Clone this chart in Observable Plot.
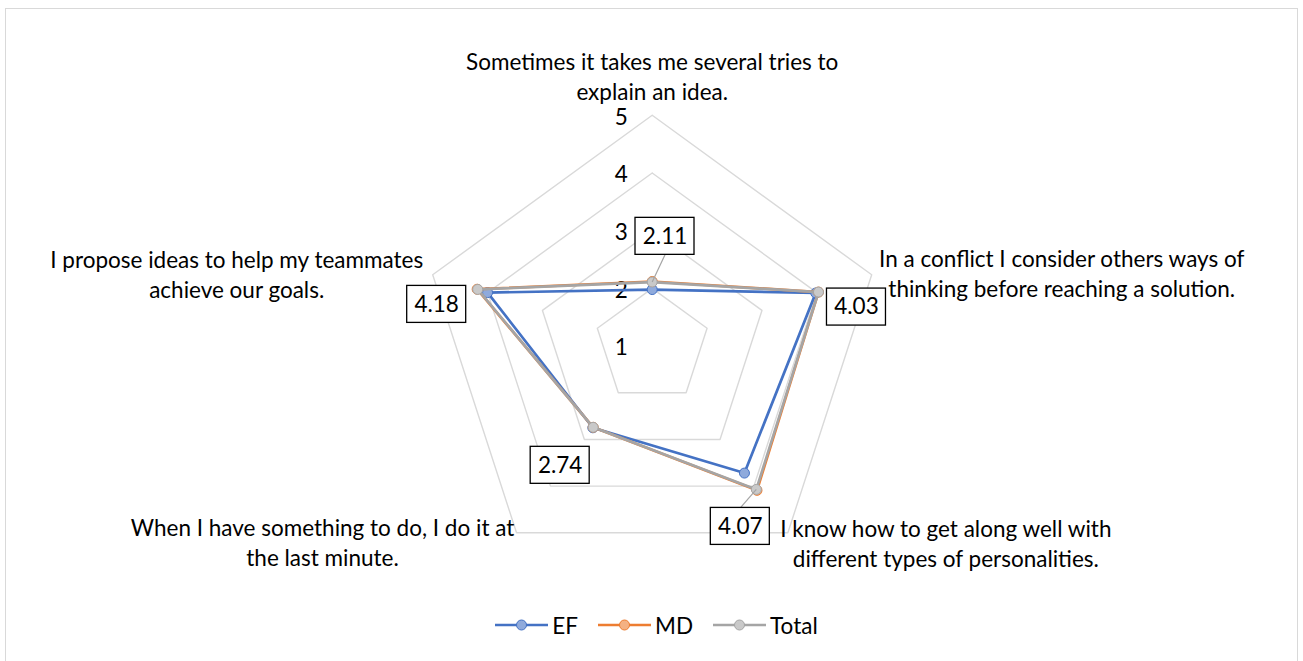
<!DOCTYPE html>
<html>
<head>
<meta charset="utf-8">
<script src="https://cdn.jsdelivr.net/npm/d3@7"></script>
<script src="https://cdn.jsdelivr.net/npm/@observablehq/plot@0.6"></script>
<style>
  html, body { margin:0; padding:0; background:#fff; font-family: Lato, "Open Sans", sans-serif; }
  #frame { position:absolute; left:5px; top:8px; width:1293px; height:720px; border:1.5px solid #d9d9d9; box-sizing:border-box; }
  #chart { position:absolute; left:0; top:0; }
  #legend { position:absolute; left:0; top:610px; width:1303px; height:30px; display:flex; justify-content:center; align-items:center; font-size:22.5px; color:#000; padding-left:10px; box-sizing:border-box; }
  .item { display:flex; align-items:center; margin:0 10px; }
  .item svg { margin-right:4px; }
</style>
</head>
<body>
<div id="frame"></div>
<div id="chart"></div>
<div id="legend"></div>
<script>
// ---- data ----
const categories = [
  "Sometimes it takes me several tries to\nexplain an idea.",
  "In a conflict I consider others ways of\nthinking before reaching a solution.",
  "I know how to get along well with\ndifferent types of personalities.",
  "When I have something to do, I do it at\nthe last minute.",
  "I propose ideas to help my teammates\nachieve our goals."
];
const ticks = [1, 2, 3, 4, 5];
const seriesNames = ["EF", "MD", "Total"];
const efValues = [1.98, 3.98, 3.72, 2.75, 4.00];
const mdValues = [2.12, 4.03, 4.09, 2.74, 4.19];
const totalValues = [2.11, 4.03, 4.07, 2.74, 4.18];

// ---- styling ----
const lineColors = {EF: "#4472C4", MD: "#ED7D31", Total: "#A5A5A5"};
const markerFill = {EF: "#8FAADC", MD: "#F4B183", Total: "#C9C9C9"};
const W = 1303, H = 600;
const cx = 651.7, cy = 345.6, u = 57.7;   // pixels per unit
const rMin = 1;
const FS = 22.5;

function pt(v, i, shift = [0, 0]) {
  const a = (90 - 72 * i) * Math.PI / 180;
  const r = v - rMin;
  return {x: r * Math.cos(a) + shift[0] / u, y: r * Math.sin(a) - shift[1] / u};
}

// grid pentagons
const grid = [];
for (const lev of [2, 3, 4, 5]) {
  for (let i = 0; i <= 5; i++) grid.push({lev, ...pt(lev, i % 5)});
}

// category labels
const catShift = [[0, -40], [190, -2], [158, 10], [-194, 9], [-196, -1]];
const catData = categories.map((c, i) => ({text: c, ...pt(5, i, catShift[i])}));

// tick labels
const tickData = ticks.map(v => ({text: String(v), ...pt(v, 0, [-31, 2])}));

// series
const seriesValues = {EF: efValues, MD: mdValues, Total: totalValues};
const seriesMarks = [];
for (const s of seriesNames) {
  const vals = seriesValues[s];
  const pts = vals.map((v, i) => ({s, ...pt(v, i)}));
  const closed = [...pts, pts[0]];
  seriesMarks.push(Plot.line(closed, {x: "x", y: "y", stroke: lineColors[s], strokeWidth: 2.7, strokeLinejoin: "round"}));
  seriesMarks.push(Plot.dot(pts, {x: "x", y: "y", r: 5, fill: markerFill[s], stroke: lineColors[s], strokeWidth: 1}));
}

// data labels (Total)
const lblShift = [[12.8, -45.7], [38, 15], [-16, 37], [-33, 38], [-41, 15]];
const bw = 29.5, bh = 18.5;
const lblData = totalValues.map((v, i) => {
  const c = pt(v, i, lblShift[i]);
  return {
    text: v.toFixed(2), x: c.x, y: c.y,
    x1: c.x - bw / u, x2: c.x + bw / u, y1: c.y - bh / u, y2: c.y + bh / u
  };
});
const leaderIdx = [0, 2];
const leaders = leaderIdx.map(i => {
  const v = totalValues[i];
  const p = pt(v, i);
  const sh = lblShift[i];
  const e = pt(v, i, [sh[0], sh[1] + (sh[1] > 0 ? -bh : bh)]);
  return {x1: p.x, y1: p.y, x2: e.x, y2: e.y};
});

const chart = Plot.plot({
  width: W, height: H, margin: 0,
  x: {type: "linear", domain: [-cx / u, (W - cx) / u], range: [0, W], axis: null},
  y: {type: "linear", domain: [(cy - H) / u, cy / u], range: [H, 0], axis: null},
  style: {fontFamily: "Lato, 'Open Sans', sans-serif", background: "transparent", overflow: "visible"},
  marks: [
    Plot.line(grid, {x: "x", y: "y", z: "lev", stroke: "#d9d9d9", strokeWidth: 1.4}),
    Plot.text(tickData, {x: "x", y: "y", text: "text", fontSize: FS, fill: "#000"}),
    Plot.text(catData, {x: "x", y: "y", text: "text", fontSize: FS, lineHeight: 30 / FS, fill: "#000", textAnchor: "middle"}),
    ...seriesMarks,
    Plot.link(leaders, {x1: "x1", y1: "y1", x2: "x2", y2: "y2", stroke: "#A5A5A5", strokeWidth: 1.2}),
    Plot.rect(lblData, {x1: "x1", x2: "x2", y1: "y1", y2: "y2", fill: "#fff", stroke: "#000", strokeWidth: 1.3}),
    Plot.text(lblData, {x: "x", y: "y", text: "text", fontSize: FS, fill: "#000"})
  ]
});
document.getElementById("chart").appendChild(chart);

// legend
const legend = document.getElementById("legend");
for (const s of seriesNames) {
  const item = document.createElement("div");
  item.className = "item";
  item.innerHTML = `<svg width="53" height="14"><line x1="0" y1="7" x2="53" y2="7" stroke="${lineColors[s]}" stroke-width="2.6"/><circle cx="26.5" cy="7" r="5" fill="${markerFill[s]}" stroke="${lineColors[s]}" stroke-width="1"/></svg><span>${s}</span>`;
  legend.appendChild(item);
}
</script>
</body>
</html>
